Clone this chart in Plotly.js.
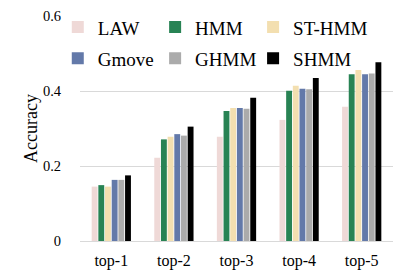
<!DOCTYPE html>
<html><head><meta charset="utf-8">
<script src="https://cdn.plot.ly/plotly-3.0.1.min.js"></script>
<style>html,body{margin:0;padding:0;background:#fff}</style>
</head><body><div id="chart" style="width:407px;height:280px"></div>
<script>
const categories = ['top-1','top-2','top-3','top-4','top-5'];
const LAW   = [0.145, 0.222, 0.278, 0.323, 0.358];
const HMM   = [0.149, 0.271, 0.347, 0.401, 0.445];
const STHMM = [0.145, 0.278, 0.355, 0.414, 0.456];
const Gmove = [0.163, 0.285, 0.355, 0.406, 0.445];
const GHMM  = [0.163, 0.281, 0.353, 0.405, 0.447];
const SHMM  = [0.175, 0.305, 0.382, 0.435, 0.477];
const yTicks = [0, 0.2, 0.4, 0.6];
const yTickText = ['0', '0.2', '0.4', '0.6'];
const seriesNames = ['LAW','HMM','ST-HMM','Gmove','GHMM','SHMM'];
const seriesData = [LAW, HMM, STHMM, Gmove, GHMM, SHMM];
const colors = ['#EFD9D7','#288354','#F3DFB0','#6379A9','#ABABAB','#000000'];

const legendIds = ['legend','legend2','legend3','legend4','legend5','legend6'];
const traces = seriesNames.map((n,i)=>({
  type:'bar', name:n, x:categories, y:seriesData[i],
  marker:{color:colors[i], line:{width:0}},
  legend: legendIds[i]
}));
const FONT = 'Liberation Serif';
const colX = [-0.071, 0.240, 0.553];
const rowY = [0.95, 0.812];
const layout = {
  width:407, height:280,
  margin:{l:80, r:14, t:16, b:39, autoexpand:false},
  paper_bgcolor:'#fff', plot_bgcolor:'#fff',
  font:{family:FONT, size:15, color:'#000'},
  barmode:'group', bargap:0.36, bargroupgap:0.12,
  xaxis:{tickfont:{family:FONT, size:16}, showline:false, ticks:'', showgrid:false, zeroline:false, ticklabelstandoff:8},
  yaxis:{range:[0,0.6], tickvals:yTicks, ticktext:yTickText,
    showgrid:true, gridcolor:'#d9d9d9', gridwidth:1, zeroline:true, zerolinecolor:'#d9d9d9', zerolinewidth:1,
    tickfont:{family:FONT, size:14.5}, ticklabelstandoff:18,
    title:{text:'Accuracy', font:{family:FONT, size:18}, standoff:0}},
  showlegend:true
};
legendIds.forEach((id,i)=>{
  layout[id] = {x:colX[i%3], y:rowY[Math.floor(i/3)], xanchor:'left', yanchor:'middle',
    bgcolor:'rgba(0,0,0,0)', font:{family:FONT, size:19}, itemwidth:30};
});
Plotly.newPlot('chart', traces, layout, {displayModeBar:false, staticPlot:true});
</script></body></html>
